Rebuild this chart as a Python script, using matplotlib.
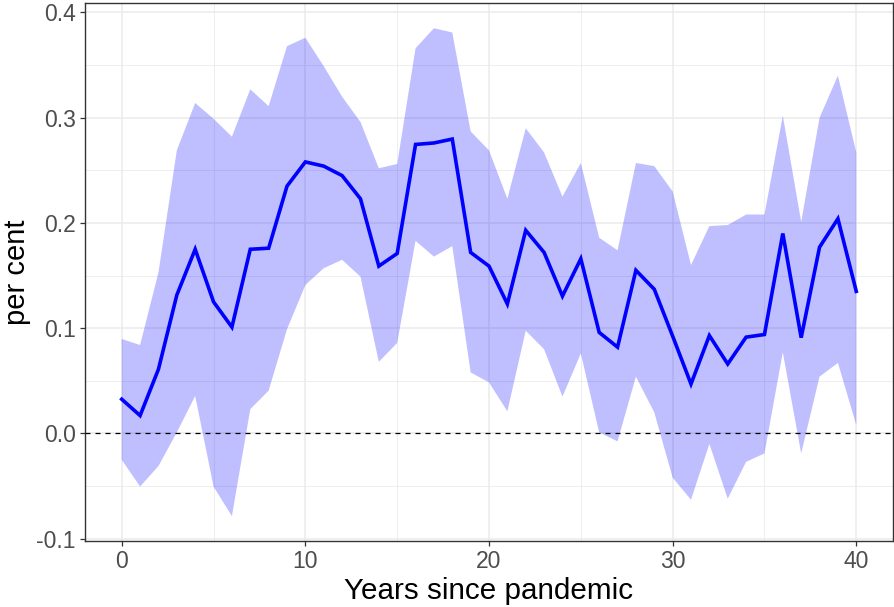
import matplotlib
matplotlib.use("Agg")
import matplotlib.pyplot as plt
import numpy as np

years = list(range(0, 41))
estimate = [0.0325, 0.017, 0.061, 0.1315, 0.175, 0.125, 0.101, 0.175, 0.176, 0.235,
            0.258, 0.254, 0.245, 0.223, 0.159, 0.171, 0.2746, 0.276, 0.2797, 0.172,
            0.159, 0.123, 0.193, 0.172, 0.1305, 0.166, 0.096, 0.082, 0.155, 0.137,
            0.0925, 0.047, 0.093, 0.066, 0.0915, 0.094, 0.190, 0.091, 0.177, 0.204,
            0.135]
upper = [0.0898, 0.084, 0.153, 0.269, 0.314, 0.299, 0.282, 0.327, 0.311, 0.368,
         0.376, 0.349, 0.320, 0.296, 0.252, 0.256, 0.366, 0.385, 0.381, 0.287,
         0.269, 0.223, 0.290, 0.267, 0.225, 0.257, 0.186, 0.174, 0.257, 0.254,
         0.230, 0.160, 0.197, 0.198, 0.208, 0.208, 0.302, 0.201, 0.300, 0.340,
         0.267]
lower = [-0.025, -0.0505, -0.031, 0.001, 0.0356, -0.0505, -0.0786, 0.023, 0.0407, 0.099,
         0.141, 0.157, 0.165, 0.149, 0.068, 0.086, 0.183, 0.168, 0.178, 0.058,
         0.0485, 0.021, 0.0976, 0.080, 0.035, 0.076, 0.001, -0.0075, 0.054, 0.020,
         -0.042, -0.063, -0.010, -0.062, -0.027, -0.019, 0.077, -0.019, 0.054, 0.067,
         0.008]
x_ticks = [0, 10, 20, 30, 40]
y_ticks = [-0.1, 0.0, 0.1, 0.2, 0.3, 0.4]
y_tick_labels = ["-0.1", "0.0", "0.1", "0.2", "0.3", "0.4"]

plt.rcParams['font.family'] = ['Liberation Sans', 'DejaVu Sans']

W, H = 895, 607
fig = plt.figure(figsize=(W / 100, H / 100), dpi=100)
ax = fig.add_axes([85 / W, (H - 541) / H, (893 - 85) / W, (541 - 3) / H])

grid_col = "#EBEBEB"
for v in [5, 15, 25, 35]:
    ax.axvline(v, color=grid_col, lw=0.6, zorder=0)
for v in x_ticks:
    ax.axvline(v, color=grid_col, lw=1.1, zorder=0)
for v in [-0.05, 0.05, 0.15, 0.25, 0.35]:
    ax.axhline(v, color=grid_col, lw=0.6, zorder=0)
for v in y_ticks:
    ax.axhline(v, color=grid_col, lw=1.1, zorder=0)

ax.fill_between(years, lower, upper, facecolor="blue", alpha=0.25, lw=0, zorder=1)
ax.plot(years, estimate, color="blue", lw=2.6, zorder=3, solid_joinstyle="miter")
ax.axhline(0, color="black", lw=0.9, linestyle=(0, (4, 4)), zorder=4)

ax.set_xlim(-2, 42)
ax.set_ylim(-0.1022, 0.409)
ax.set_xticks(x_ticks)
ax.set_xticklabels([str(v) for v in x_ticks])
ax.set_yticks(y_ticks)
ax.set_yticklabels(y_tick_labels)

ax.tick_params(axis="both", colors="#333333", labelcolor="#4D4D4D", labelsize=16.5,
               length=3.6, width=0.9, pad=3)
for s in ax.spines.values():
    s.set_color("#333333")
    s.set_linewidth(1.0)

ax.set_xlabel("Years since pandemic", fontsize=21.3, color="black", labelpad=3)
ax.set_ylabel("per cent", fontsize=21, color="black", labelpad=4)

fig.savefig("out.png", dpi=100)
